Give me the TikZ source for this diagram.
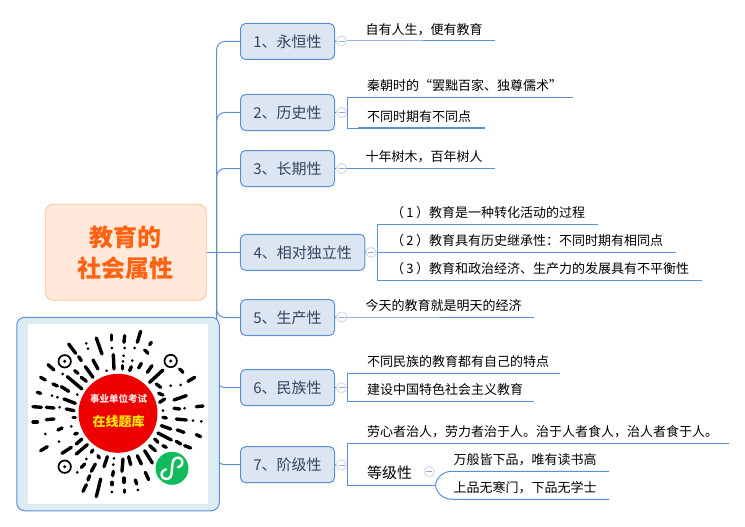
\documentclass[tikz,border=0pt]{standalone}
\usepackage{fontspec}
\setmainfont{Noto Sans CJK SC}
\usetikzlibrary{shapes}
\definecolor{linkblue}{HTML}{5B8FD8}
\definecolor{topicfill}{HTML}{DCE5F2}
\definecolor{topictext}{HTML}{34435F}
\definecolor{foldblue}{HTML}{CFDAF2}
\definecolor{foldminus}{HTML}{9AA6BE}
\definecolor{rootfill}{HTML}{FEE9DB}
\definecolor{rootdraw}{HTML}{FFC28F}
\definecolor{roottext}{HTML}{FF6210}
\definecolor{qrfill}{HTML}{DBECF3}
\definecolor{qrred}{HTML}{EC0000}
\definecolor{qrgreen}{HTML}{10BB5C}
\definecolor{qryellow}{HTML}{FFE600}
\definecolor{qrwhite}{HTML}{FBE4E4}
\tikzset{
  link/.style={draw=linkblue, line width=1pt},
  topic/.style={draw=linkblue, fill=topicfill, text=topictext, rounded corners=5pt,
    line width=1pt, minimum height=36pt, inner sep=0pt,
    font=\fontsize{15}{18}\selectfont},
  rootnode/.style={draw=rootdraw, fill=rootfill, text=roottext, rounded corners=8pt,
    line width=0.8pt, minimum width=161pt, minimum height=96pt, inner sep=0pt,
    align=center, font=\fontsize{24}{31}\selectfont\bfseries},
  fold/.style={circle, draw=foldblue, fill=white, line width=1pt, minimum size=10pt,
    inner sep=0pt, path picture={\draw[foldminus, line width=0.8pt]
      ([xshift=-3pt]path picture bounding box.center) --
      ([xshift=3pt]path picture bounding box.center);}},
  leafbase/.style={anchor=south west, inner xsep=0pt, inner ysep=3.5pt, text width=#1,
    align=left, text height=10pt, text depth=3pt, font=\fontsize{13}{15}\selectfont},
  leaf/.style={leafbase=#1, execute at begin node={\hspace*{19.5pt}}},
  subleaf/.style={leafbase=#1, execute at begin node={\hspace*{1.5pt}}},
  qrframe/.style={draw=linkblue, fill=qrfill, rounded corners=8pt, line width=1pt,
    minimum width=202.5pt, minimum height=193.5pt, inner sep=0pt},
  qrstroke/.style={line width=3.4pt, line cap=round},
  qrring/.style={draw, line width=1.7pt}
}

\begin{document}
\begin{tikzpicture}[x=1pt,y=-1pt]
  \useasboundingbox (0,0) rectangle (745,527);

  \node[rootnode] (root) at (125.8,252.3) {教育的\\社会属性};
  \coordinate (trunk) at (216.7,252.3);

  \node[topic, minimum width=94pt] (t1) at (287.5,41.5) {1、永恒性};
  \node[topic, minimum width=94pt] (t2) at (287.5,112.5) {2、历史性};
  \node[topic, minimum width=94pt] (t3) at (287.5,168.5) {3、长期性};
  \node[topic, minimum width=124.5pt] (t4) at (302.7,252.3) {4、相对独立性};
  \node[topic, minimum width=94pt] (t5) at (287.5,317.5) {5、生产性};
  \node[topic, minimum width=94pt] (t6) at (287.5,387.5) {6、民族性};
  \node[topic, minimum width=94pt] (t7) at (287.5,464.7) {7、阶级性};

  \draw[link] (root.east) -- (t4.west);
  \foreach \T in {t1,t2,t3,t5,t6,t7}
    \draw[link, rounded corners=8pt] (trunk) |- (\T.west);

  \node[fold] (f1) at (341.7,41) {};
  \node[fold] (f2) at (341.7,112.5) {};
  \node[fold] (f3) at (341.7,168.5) {};
  \node[fold] (f4) at (371,252.3) {};
  \node[fold] (f5) at (341.7,317) {};
  \node[fold] (f6) at (341.5,387.7) {};
  \node[fold] (f7) at (341.5,465) {};
  \node[fold] (f72) at (429.3,471.7) {};
  \foreach \N in {1,...,7}
    \draw[link] (t\N.east) -- (f\N.west);

  \node[leaf=149pt] (l1) at (346,41) {自有人生，便有教育};
  \node[leaf=225.4pt] (l21) at (347.3,97.5) {秦朝时的“罢黜百家、独尊儒术”};
  \node[leaf=137.4pt] (l22) at (347.3,128) {不同时期有不同点};
  \node[leaf=149pt] (l3) at (346,168.5) {十年树木，百年树人};
  \node[leaf=220.4pt] (l41) at (377.3,224) {\hspace*{-6pt}（\kern2.5pt 1\kern2.5pt ）教育是一种转化活动的过程};
  \node[leaf=298.4pt] (l42) at (377.3,252.3) {\hspace*{-6pt}（\kern2.5pt 2\kern2.5pt ）教育具有历史继承性：不同时期有相同点};
  \node[leaf=324.4pt] (l43) at (377.3,280) {\hspace*{-6pt}（\kern2.5pt 3\kern2.5pt ）教育和政治经济、生产力的发展具有不平衡性};
  \node[leaf=187.3pt] (l5) at (346,317) {今天的教育就是明天的经济};
  \node[leaf=212.4pt] (l61) at (347.3,373.3) {不同民族的教育都有自己的特点};
  \node[leaf=186.4pt] (l62) at (347.3,401.3) {建设中国特色社会主义教育};
  \node[leaf=381.7pt] (l71) at (347.3,443.3) {劳心者治人，劳力者治于人。治于人者食人，治人者食于人。};
  \node[leaf=87.7pt, font=\fontsize{15}{18}\selectfont] (l72) at (347.3,485.3) {等级性};
  \node[subleaf=156.7pt] (s1) at (452,471.3) {万般皆下品，唯有读书高};
  \node[subleaf=156.7pt] (s2) at (452,499.3) {上品无寒门，下品无学士};

  \foreach \F/\L in {f1/l1,f3/l3,f5/l5}
    \draw[link] (\F.east) -- (\L.south west) -- (\L.south east);

  \draw[link] (f2.east) -- (f2.east -| l21.south west);
  \draw[link] (l21.south east) -- (l21.south west) -- (l22.south west) -- (l22.south east);
  \draw[link, line width=2.5pt] ([xshift=10.3pt]l22.south west) -- (l22.south east);

  \draw[link] (f4.east) -- (l42.south west) -- (l42.south east);
  \draw[link] (l41.south east) -- (l41.south west) -- (l43.south west) -- (l43.south east);

  \draw[link] (f6.east) -- (f6.east -| l61.south west);
  \draw[link] (l61.south east) -- (l61.south west) -- (l62.south west) -- (l62.south east);

  \draw[link] (f7.east) -- (f7.east -| l71.south west);
  \draw[link] (l71.south east) -- (l71.south west) -- (l72.south west) -- (l72.south east);
  \draw[link] (l72.south east) to[out=80,in=180] (s1.south west) -- (s1.south east);
  \draw[link] (l72.south east) to[out=-80,in=180] (s2.south west) -- (s2.south east);

  %% code picture
  \node[qrframe] (qrbox) at (118,414) {};
  \fill[white] (28,324) rectangle (208,504);

  \begin{scope}[shift={(28,324)}, x=0.3333pt, y=-0.3333pt]
    \foreach \a/\b/\c/\d in {122/60/143/88, 205/42/222/90, 250/33/250/48, 290/35/288/55,
      338/22/328/55, 370/55/365/62, 60/122/78/138, 152/98/160/110, 195/108/210/135,
      256/92/258/135, 283/125/283/135, 350/78/360/88, 340/118/332/132, 310/128/305/140,
      372/125/358/145, 405/138/365/175, 172/128/195/160, 140/140/150/148, 455/135/465/145,
      160/160/175/172, 118/158/162/195, 38/160/52/168, 75/180/88/186, 100/188/122/202,
      500/160/480/172, 385/180/398/190, 28/205/38/208, 108/225/142/238, 392/208/405/213,
      395/235/410/225, 475/215/438/228, 15/248/40/250, 55/250/78/252, 115/255/138/260,
      438/253/455/255, 505/248/525/246}
      \draw[qrstroke] (\a,\b) -- (\c,\d);
    \foreach \a/\b in {175/58, 180/74, 252/72, 290/72, 287/95, 285/112, 320/72, 313/110,
      236/140, 104/150, 428/185, 458/183, 72/215, 88/220, 148/212, 95/250, 405/260, 470/253}
      \fill (\a,\b) circle (4.5);
  \end{scope}

  \begin{scope}[shift={(28,414)}, x=0.3333pt, y=-0.3333pt]
    \foreach \a/\b/\c/\d in {15/24/28/24, 55/17/78/15, 135/10/142/10, 405/10/415/12,
      445/15/475/18, 90/48/102/42, 400/35/428/45, 448/48/468/55, 505/62/518/68,
      140/60/148/58, 390/57/430/78, 145/90/162/75, 380/75/390/85, 445/82/458/90,
      38/110/58/98, 102/118/130/100, 145/120/178/92, 365/95/382/110, 405/95/415/100,
      470/95/488/102, 160/160/170/150, 190/115/195/108, 210/125/214/132, 228/158/238/128,
      256/172/254/185, 190/172/202/150, 282/172/285/135, 308/152/302/128, 328/125/340/150,
      350/110/373/147, 180/198/185/185, 165/232/175/212, 205/248/218/195, 252/205/252/212,
      288/192/288/205, 322/198/326/210, 352/175/362/197, 290/228/290/235}
      \draw[qrstroke] (\a,\b) -- (\c,\d);
    \foreach \a/\b in {495/20, 520/22, 130/37, 52/60, 93/83, 175/135, 258/133, 256/152,
      148/175, 252/234, 330/228}
      \fill (\a,\b) circle (4.5);
  \end{scope}

  \foreach \a/\b in {64.7/361.3, 170.7/361, 64.7/466.7} {
    \draw[qrring] (\a,\b) circle (6.2);
    \fill (\a,\b) circle (1.7);
  }

  \node[circle, fill=qrred, minimum size=79pt, inner sep=0pt] (qrdisc) at (118,413.3) {};
  \node[text=qrwhite, font=\fontsize{9.5}{11}\selectfont\bfseries, inner sep=0pt]
    (qrtop) at (118.5,399) {事业单位考试};
  \node[text=qryellow, font=\fontsize{13}{15}\selectfont\bfseries, inner sep=0pt]
    (qrmain) at (118.5,421.7) {在线题库};

  \fill[qrgreen] (172,468.3) circle (16.5);
  \begin{scope}[shift={(172,468.3)}]
    \draw[white, line width=2.4pt, line cap=round] (-6,1) .. controls (-10,2) and (-12,6) .. (-9,9.5)
      .. controls (-6,12) and (-1,10.5) .. (-0.5,6) -- (0.5,-5)
      .. controls (1,-10.5) and (6,-12) .. (9,-9.5) .. controls (12,-6) and (10,-2) .. (6,-1);
  \end{scope}

\end{tikzpicture}
\end{document}
